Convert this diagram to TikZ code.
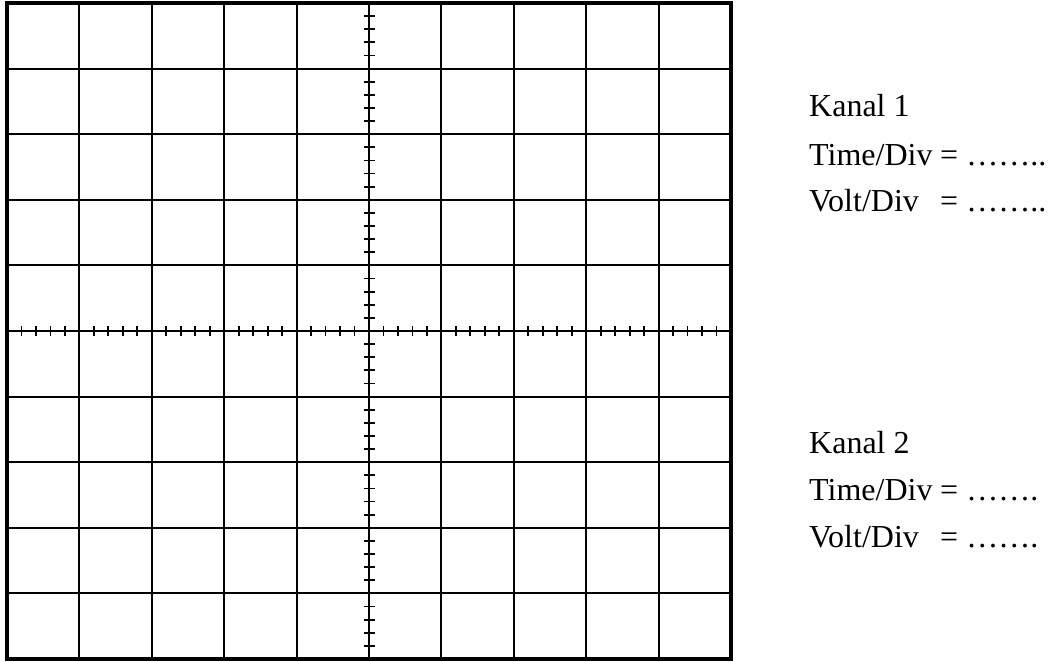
\documentclass[tikz,border=0pt]{standalone}
\usepackage{fontspec}
\setmainfont{Liberation Serif}
\begin{document}
\begin{tikzpicture}[x=1pt,y=-1pt,
  gridline/.style={line width=2.1pt},
  frame/.style={line width=4pt},
  tickmark/.style={line width=1.8pt},
  lab/.style={anchor=base west, inner sep=0pt, font=\fontsize{32}{32}\selectfont}]
\useasboundingbox (0,0) rectangle (1051,661);
\foreach \i in {1,...,9} {
  \draw[gridline] (7+\i*72.4,3) -- (7+\i*72.4,659);
  \draw[gridline] (7,3+\i*65.6) -- (731,3+\i*65.6);
}
\foreach \i in {0,...,9} {
  \foreach \k in {1,...,4} {
    \draw[tickmark] (7+\i*72.4+\k*14.48,326) -- ++(0,10);
    \draw[tickmark] (364,3+\i*65.6+\k*13.12) -- ++(11,0);
  }
}
\draw[frame] (7,3) rectangle (731,659);
% Kanal 1
\node[lab] (k1) at (809,116.7) {Kanal 1};
\node[lab] (t1) at (809,165) {Time/Div};
\node[lab] (t1v) at (940,165) {= ……..};
\node[lab] (v1) at (809,211.7) {Volt/Div};
\node[lab] (v1v) at (940,211.7) {= ……..};
% Kanal 2
\node[lab] (k2) at (809,453) {Kanal 2};
\node[lab] (t2) at (809,500) {Time/Div};
\node[lab] (t2v) at (940,500) {= …….};
\node[lab] (v2) at (809,547) {Volt/Div};
\node[lab] (v2v) at (940,547) {= …….};
\end{tikzpicture}
\end{document}
